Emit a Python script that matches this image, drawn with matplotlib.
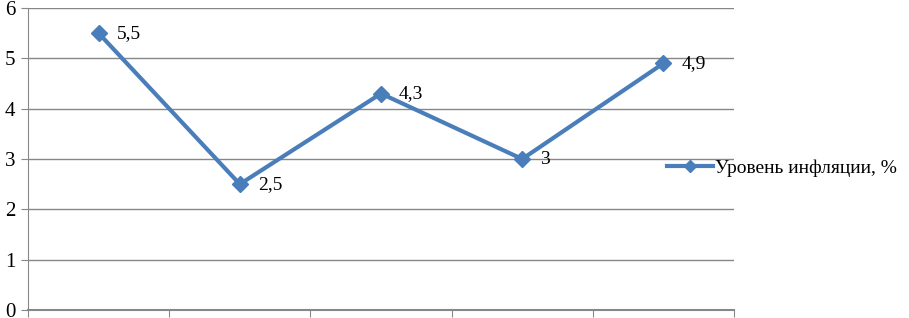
import numpy as np
import matplotlib.pyplot as plt

# Data
categories = ["1", "2", "3", "4", "5"]
inflation = [5.5, 2.5, 4.3, 3, 4.9]
value_labels = ["5,5", "2,5", "4,3", "3", "4,9"]
series_name = "Уровень инфляции, %"

plt.rcParams['font.family'] = ['Liberation Serif', 'DejaVu Serif']

fig = plt.figure(figsize=(9.09, 3.18), dpi=100)
ax = fig.add_axes([28/909, 8/318, (734-28)/909, (310-8)/318])

x = np.arange(len(categories))
ax.plot(x, inflation, color="#4A7EBB", linewidth=3, marker="D",
        markersize=8.5, label=series_name, zorder=3, clip_on=False)

for xi, yi, lab in zip(x, inflation, value_labels):
    ax.annotate(lab, (xi, yi), xytext=(13, 0), textcoords="offset points",
                va="center", ha="left", fontsize=14)

ax.set_xlim(-0.5, len(categories) - 0.5)
ax.set_ylim(0, 6)
ax.set_yticks(range(0, 7))
ax.set_xticks(np.arange(-0.5, len(categories)))
ax.set_xticklabels([])
ax.yaxis.grid(True, color="#878787", linewidth=1)
ax.set_axisbelow(True)

for s in ["top", "right"]:
    ax.spines[s].set_visible(False)
for s in ["left", "bottom"]:
    ax.spines[s].set_color("#878787")
ax.spines["bottom"].set_linewidth(1.5)
ax.tick_params(axis="both", colors="#878787", length=5, labelcolor="black",
               labelsize=15)
ax.tick_params(axis="y", pad=4)

ax.legend(loc="center left", bbox_to_anchor=(0.88, 0.47), frameon=False,
          fontsize=14, handlelength=2.4, handletextpad=0.1, markerscale=0.75)

fig.savefig("out.png", dpi=100)
